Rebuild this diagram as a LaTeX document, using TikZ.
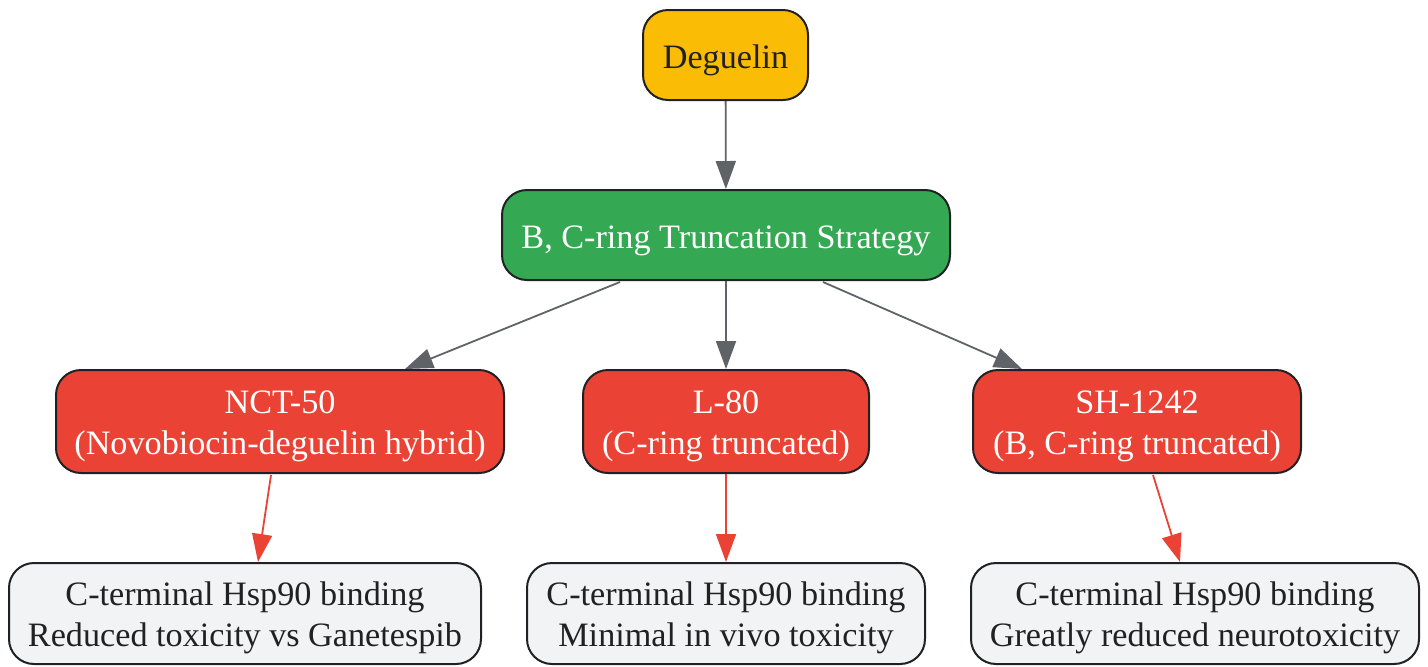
\documentclass[tikz,border=0pt]{standalone}
\usepackage{fontspec}
\setmainfont{Liberation Serif}
\usepackage{tikz}
\usetikzlibrary{arrows.meta,calc}
\usepackage{xcolor}
\definecolor{degyellow}{HTML}{FBBC05}
\definecolor{stratgreen}{HTML}{34A853}
\definecolor{hitred}{HTML}{EA4335}
\definecolor{notegray}{HTML}{F1F3F4}
\definecolor{inkdark}{HTML}{202124}
\definecolor{edgegray}{HTML}{5F6368}

\begin{document}
\begin{tikzpicture}[
    x=0.5pt, y=-0.5pt,
    block/.style={draw=inkdark, line width=1pt, rounded corners=12.5pt, align=center, inner sep=0pt, font=\fontsize{17.1}{20.5}\selectfont},
    single/.style={block, execute at begin node={\rule{0pt}{17pt}}},
    hit/.style={block, fill=hitred, text=white, minimum height=51.5pt, text height=37pt},
    note/.style={block, fill=notegray, text=inkdark, minimum height=50.5pt, text height=37pt},
    arrow/.style={-{Triangle[length=14pt,width=10pt]}, line width=0.9pt, draw=edgegray},
    redarrow/.style={arrow, draw=hitred}
]
    \useasboundingbox (0,0) rectangle (1428,666);

    % Parent compound
    \node[single, fill=degyellow, text=inkdark, minimum width=82.5pt, minimum height=45pt] (deg) at (725.5,55) {Deguelin};

    % Strategy
    \node[single, fill=stratgreen, text=white, minimum width=224pt, minimum height=45pt] (strat) at (726,235) {B, C-ring Truncation Strategy};
    \draw[arrow] (deg) -- (strat);

    % --- ANALOGUES ---
    \node[hit, minimum width=224pt] (nct) at (280,421.5) {NCT-50\\(Novobiocin-deguelin hybrid)};
    \node[hit, minimum width=143pt] (l80) at (726,421.5) {L-80\\(C-ring truncated)};
    \node[hit, minimum width=164pt] (sh) at (1137,421.5) {SH-1242\\(B, C-ring truncated)};

    \draw[arrow] ($(strat.south)+(-106,1)$) -- ($(nct.north)+(125,0)$);
    \draw[arrow] (strat) -- (l80);
    \draw[arrow] ($(strat.south)+(97,1)$) -- ($(sh.north)+(-115,0)$);

    % --- OUTCOMES ---
    \node[note, minimum width=236pt] (out_nct) at (245,613.5) {C-terminal Hsp90 binding\\Reduced toxicity vs Ganetespib};
    \node[note, minimum width=199pt] (out_l80) at (726,613.5) {C-terminal Hsp90 binding\\Minimal in vivo toxicity};
    \node[note, minimum width=224pt] (out_sh) at (1195,613.5) {C-terminal Hsp90 binding\\Greatly reduced neurotoxicity};

    \draw[redarrow] ($(nct.south)+(-9,1)$) -- ($(out_nct.north)+(13,0)$);
    \draw[redarrow] (l80) -- (out_l80);
    \draw[redarrow] ($(sh.south)+(16,1)$) -- ($(out_sh.north)+(-15,0)$);

\end{tikzpicture}
\end{document}
